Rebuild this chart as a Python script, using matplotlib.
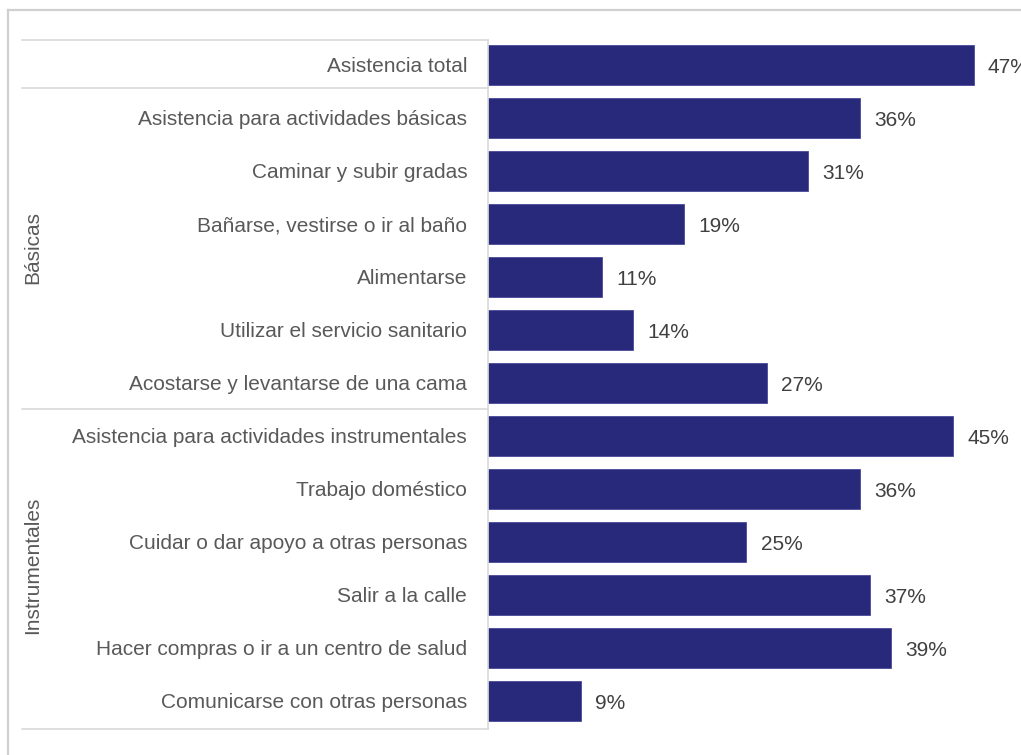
import matplotlib
matplotlib.use("Agg")
import matplotlib.pyplot as plt
from matplotlib.lines import Line2D
from matplotlib.transforms import blended_transform_factory

plt.rcParams["font.family"] = ["Liberation Sans", "DejaVu Sans"]

categories = [
    "Asistencia total",
    "Asistencia para actividades básicas",
    "Caminar y subir gradas",
    "Bañarse, vestirse o ir al baño",
    "Alimentarse",
    "Utilizar el servicio sanitario",
    "Acostarse y levantarse de una cama",
    "Asistencia para actividades instrumentales",
    "Trabajo doméstico",
    "Cuidar o dar apoyo a otras personas",
    "Salir a la calle",
    "Hacer compras o ir a un centro de salud",
    "Comunicarse con otras personas",
]
values = [47, 36, 31, 19, 11, 14, 27, 45, 36, 25, 37, 39, 9]
groups = [("Básicas", 1, 6), ("Instrumentales", 7, 12)]

W, H = 1021, 755
fig = plt.figure(figsize=(W / 100, H / 100), dpi=100)
fig.patch.set_facecolor("white")

bar_color = "#29297b"
text_color = "#595959"
grid_color = "#d9d9d9"
fs = 15

ax_left, ax_top, ax_bottom = 488, 40, 729
ax = fig.add_axes([ax_left / W, 1 - ax_bottom / H, (W - ax_left) / W, (ax_bottom - ax_top) / H])

y = list(range(len(categories)))
ax.barh(y, values, height=0.76, color=bar_color, edgecolor="#4a4a9a", linewidth=0.6)
ax.set_xlim(0, (W - ax_left) / 10.33)
ax.set_ylim(len(categories) - 0.47, -0.47)

ax.set_yticks(y)
ax.set_yticklabels(categories, fontsize=fs, color=text_color)
ax.tick_params(axis="y", length=0, pad=15)
ax.set_xticks([])
for s in ("top", "right", "bottom"):
    ax.spines[s].set_visible(False)
ax.spines["left"].set_color(grid_color)
ax.spines["left"].set_linewidth(1.2)

for yi, v in zip(y, values):
    ax.text(v + 1.4, yi + 0.05, f"{v}%", va="center", ha="left",
            fontsize=fs, color="#404040", clip_on=False)

# horizontal separators spanning the label column
trans = blended_transform_factory(fig.transFigure, ax.transData)
for b in (-0.47, 0.43, 6.5, 12.53):
    ax.add_line(Line2D([22 / W, ax_left / W], [b, b], transform=trans,
                       color=grid_color, lw=1.2, clip_on=False))

# group labels
for name, a, b in groups:
    ax.text(33 / W, (a + b) / 2 - 0.05, name, transform=trans, rotation=90,
            ha="center", va="center", fontsize=fs, color=text_color)

# outer frame
fig.add_artist(Line2D([8 / W, 8 / W], [0, 1 - 10 / H], transform=fig.transFigure,
                      color="#d0d0d0", lw=1.6))
fig.add_artist(Line2D([8 / W, 1], [1 - 10 / H, 1 - 10 / H], transform=fig.transFigure,
                      color="#d0d0d0", lw=1.6))

fig.savefig("out.png", dpi=100, facecolor="white")
